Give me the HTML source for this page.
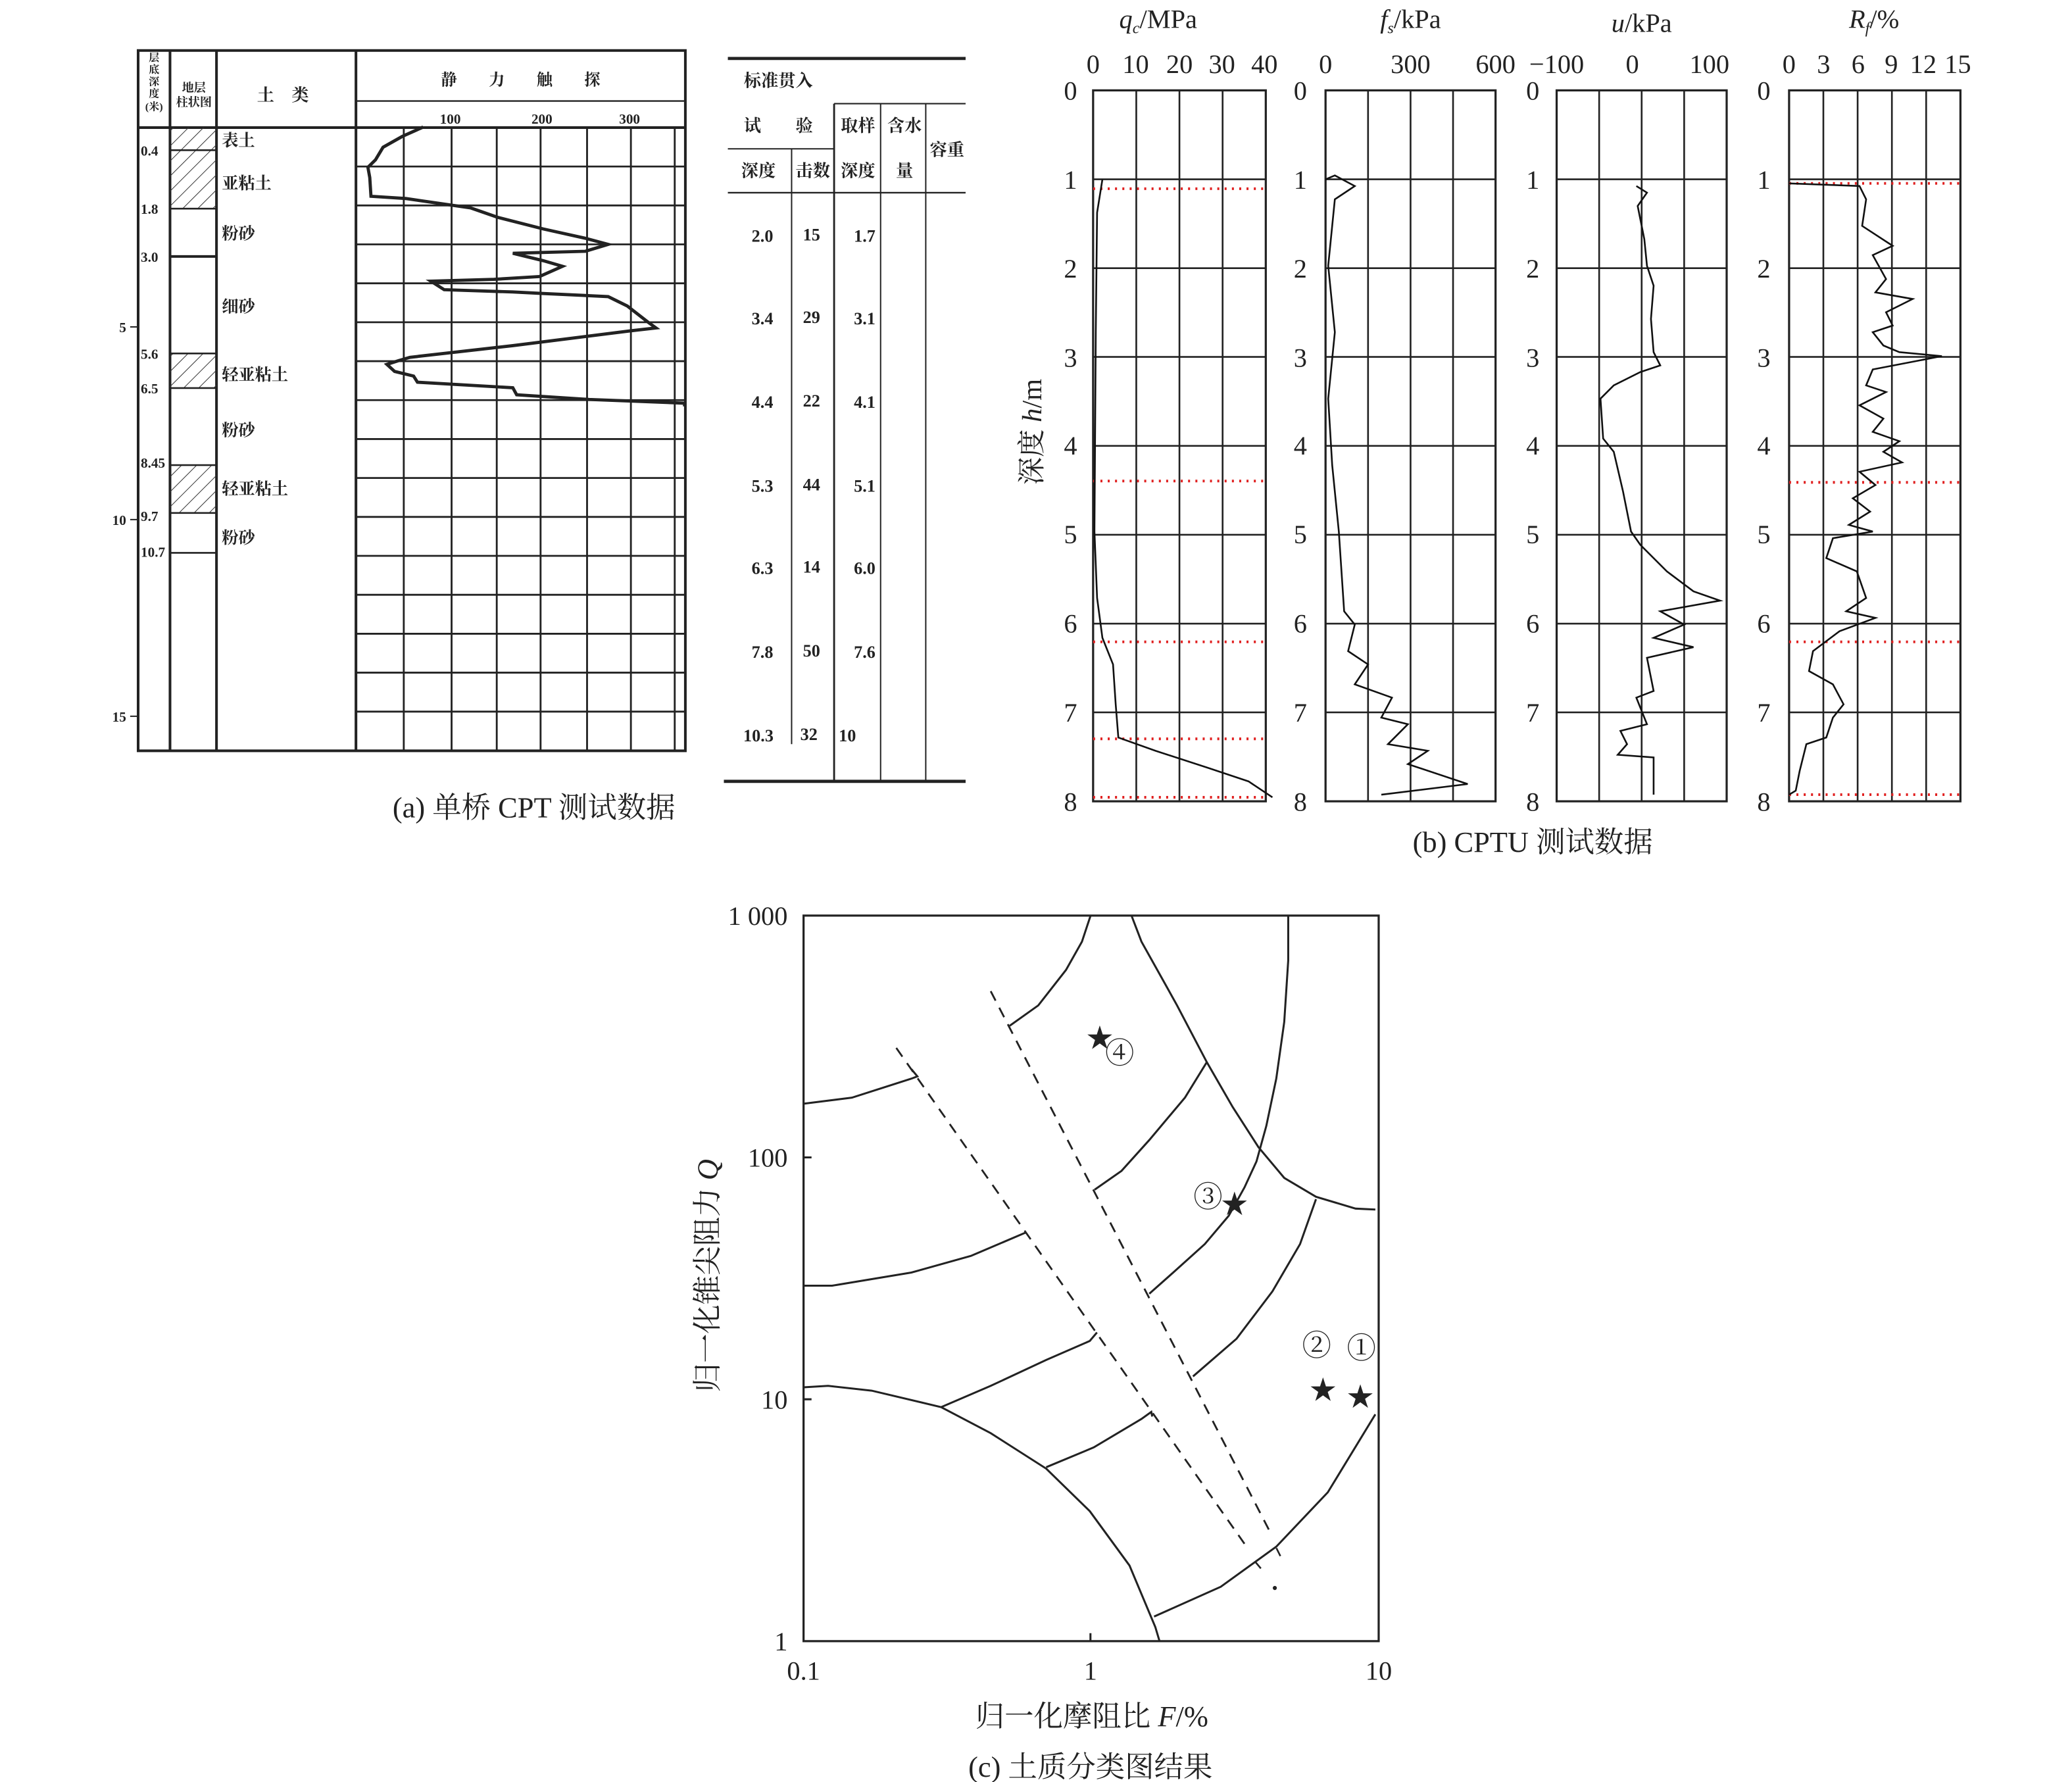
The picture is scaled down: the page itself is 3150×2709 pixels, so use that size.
<!DOCTYPE html>
<html><head><meta charset="utf-8"><style>
html,body{margin:0;padding:0;background:#fff;}
svg{display:block;}
text{font-family:"Liberation Serif","Noto Serif CJK SC",serif;fill:#222;}
.cj{font-family:"Liberation Serif","Noto Serif CJK SC","Noto Sans CJK SC",serif;}
</style></head><body>
<svg width="3150" height="2709" viewBox="0 0 1560 1341" preserveAspectRatio="none" xmlns="http://www.w3.org/2000/svg">
<defs>
<pattern id="h" patternUnits="userSpaceOnUse" width="8" height="8" patternTransform="rotate(45)">
<line x1="0" y1="0" x2="0" y2="8" stroke="#333" stroke-width="1"/></pattern>
</defs>
<rect width="1560" height="1341" fill="#fff"/>

<!-- ============ PANEL A ============ -->
<g stroke="#222" fill="none">
<rect x="104" y="38" width="412" height="527" stroke-width="2"/>
<line x1="128" y1="38" x2="128" y2="565" stroke-width="2"/>
<line x1="163" y1="38" x2="163" y2="565" stroke-width="2"/>
<line x1="268" y1="38" x2="268" y2="565" stroke-width="2"/>
<line x1="104" y1="96" x2="516" y2="96" stroke-width="2"/>
<line x1="268" y1="76" x2="516" y2="76" stroke-width="1.2"/>
<rect x="128" y="96" width="35" height="61" fill="url(#h)" stroke="none"/>
<rect x="128" y="266" width="35" height="26" fill="url(#h)" stroke="none"/>
<rect x="128" y="350" width="35" height="36" fill="url(#h)" stroke="none"/>
<g stroke-width="1.3">
<line x1="128" y1="113" x2="163" y2="113"/><line x1="128" y1="157" x2="163" y2="157"/>
<line x1="128" y1="193" x2="163" y2="193" stroke-width="2"/><line x1="128" y1="266" x2="163" y2="266"/>
<line x1="128" y1="292" x2="163" y2="292"/><line x1="128" y1="350" x2="163" y2="350"/>
<line x1="128" y1="386" x2="163" y2="386"/><line x1="128" y1="416" x2="163" y2="416"/>
</g>
<g stroke-width="1.4">
<line x1="304" y1="96" x2="304" y2="565"/><line x1="340" y1="96" x2="340" y2="565"/>
<line x1="374" y1="96" x2="374" y2="565"/><line x1="407" y1="96" x2="407" y2="565"/>
<line x1="442" y1="96" x2="442" y2="565"/><line x1="475" y1="96" x2="475" y2="565"/>
<line x1="508" y1="96" x2="508" y2="565"/>
<line x1="268" y1="125.3" x2="516" y2="125.3"/><line x1="268" y1="154.6" x2="516" y2="154.6"/>
<line x1="268" y1="183.9" x2="516" y2="183.9"/><line x1="268" y1="213.2" x2="516" y2="213.2"/>
<line x1="268" y1="242.5" x2="516" y2="242.5"/><line x1="268" y1="271.8" x2="516" y2="271.8"/>
<line x1="268" y1="301.1" x2="516" y2="301.1"/><line x1="268" y1="330.4" x2="516" y2="330.4"/>
<line x1="268" y1="359.7" x2="516" y2="359.7"/><line x1="268" y1="389" x2="516" y2="389"/>
<line x1="268" y1="418.3" x2="516" y2="418.3"/><line x1="268" y1="447.6" x2="516" y2="447.6"/>
<line x1="268" y1="476.9" x2="516" y2="476.9"/><line x1="268" y1="506.2" x2="516" y2="506.2"/>
<line x1="268" y1="535.5" x2="516" y2="535.5"/>
</g>
<line x1="98" y1="246" x2="104" y2="246"/><line x1="98" y1="391" x2="104" y2="391"/><line x1="98" y1="539" x2="104" y2="539"/>
<polyline stroke-width="2.4" points="318.6,95.6 302.8,102.7 288.4,110.8 282.7,120.3 277,125.9 278.4,133.6 279.3,147.7 305.7,149.4 354.5,156.5 374.6,163.5 409.1,172.3 440.7,179.3 457.9,183.9 440.7,189.1 386.1,190.6 409.1,196.2 423.5,200.4 406.2,208.1 371.8,210.2 324.4,211.6 334.4,218 386.1,219.7 407.7,220.8 457.9,223.2 472.3,230.3 488.1,242.6 493.9,246.8 475.2,248.9 386.1,260.1 308.6,268.9 300,271.4 291.3,274.2 297.1,279.5 311.4,283 314.3,287.6 386.1,291.8 389,297.1 443.6,300.6 515.4,303.4 515.4,305.8"/>
</g>
<g class="cj" font-size="10.5" font-weight="bold">
<text x="116" y="46" font-size="8" text-anchor="middle">层</text>
<text x="116" y="55" font-size="8" text-anchor="middle">底</text>
<text x="116" y="64" font-size="8" text-anchor="middle">深</text>
<text x="116" y="73" font-size="8" text-anchor="middle">度</text>
<text x="116" y="83" font-size="8" text-anchor="middle">(米)</text>
<text x="146" y="69" font-size="9" text-anchor="middle">地层</text>
<text x="146" y="80" font-size="9" text-anchor="middle">柱状图</text>
<text x="213" y="76" font-size="13" text-anchor="middle">土　类</text>
<text x="392" y="64" font-size="12" text-anchor="middle">静　　力　　触　　探</text>
<text x="339" y="93" text-anchor="middle">100</text>
<text x="408" y="93" text-anchor="middle">200</text>
<text x="474" y="93" text-anchor="middle">300</text>
<text x="106" y="117">0.4</text><text x="106" y="161">1.8</text><text x="106" y="197">3.0</text>
<text x="106" y="270">5.6</text><text x="106" y="296">6.5</text><text x="106" y="352">8.45</text>
<text x="106" y="392">9.7</text><text x="106" y="419">10.7</text>
<text x="95" y="250" text-anchor="end">5</text><text x="95" y="395" text-anchor="end">10</text><text x="95" y="543" text-anchor="end">15</text>
<g font-size="12.5">
<text x="167" y="110">表土</text><text x="167" y="142">亚粘土</text><text x="167" y="180">粉砂</text>
<text x="167" y="235">细砂</text><text x="167" y="286">轻亚粘土</text><text x="167" y="328">粉砂</text>
<text x="167" y="372">轻亚粘土</text><text x="167" y="409">粉砂</text>
</g>
</g>

<!-- right table -->
<g stroke="#222" fill="none">
<line x1="548" y1="44" x2="727" y2="44" stroke-width="2.4"/>
<line x1="628" y1="78" x2="727" y2="78" stroke-width="1"/>
<line x1="548" y1="112" x2="628" y2="112" stroke-width="1"/>
<line x1="548" y1="145" x2="727" y2="145" stroke-width="1.2"/>
<line x1="596" y1="112" x2="596" y2="560" stroke-width="1"/>
<line x1="628" y1="78" x2="628" y2="588" stroke-width="1.4"/>
<line x1="663" y1="78" x2="663" y2="588" stroke-width="1"/>
<line x1="697" y1="78" x2="697" y2="588" stroke-width="1"/>
<line x1="545" y1="588" x2="727" y2="588" stroke-width="2.4"/>
</g>
<g class="cj" font-size="13" font-weight="bold">
<text x="586" y="65" text-anchor="middle">标准贯入</text>
<text x="586" y="99" text-anchor="middle">试　　验</text>
<text x="646" y="99" text-anchor="middle">取样</text>
<text x="681" y="99" text-anchor="middle">含水</text>
<text x="713" y="117" text-anchor="middle">容重</text>
<text x="571" y="133" text-anchor="middle">深度</text>
<text x="612" y="133" text-anchor="middle">击数</text>
<text x="646" y="133" text-anchor="middle">深度</text>
<text x="681" y="133" text-anchor="middle">量</text>
</g>
<g font-size="13" text-anchor="middle" font-weight="bold">
<text x="574" y="182">2.0</text><text x="611" y="181">15</text><text x="651" y="182">1.7</text>
<text x="574" y="244">3.4</text><text x="611" y="243">29</text><text x="651" y="244">3.1</text>
<text x="574" y="307">4.4</text><text x="611" y="306">22</text><text x="651" y="307">4.1</text>
<text x="574" y="370">5.3</text><text x="611" y="369">44</text><text x="651" y="370">5.1</text>
<text x="574" y="432">6.3</text><text x="611" y="431">14</text><text x="651" y="432">6.0</text>
<text x="574" y="495">7.8</text><text x="611" y="494">50</text><text x="651" y="495">7.6</text>
<text x="571" y="558">10.3</text><text x="609" y="557">32</text><text x="638" y="558">10</text>
</g>
<text class="cj" x="402" y="615" font-size="22" text-anchor="middle">(a) 单桥 CPT 测试数据</text>

<!-- ============ PANEL B ============ -->
<g stroke="#222" fill="none" stroke-width="1.3">
<rect x="823" y="68" width="130" height="535" stroke-width="1.6"/>
<rect x="998" y="68" width="128" height="535" stroke-width="1.6"/>
<rect x="1172" y="68" width="128" height="535" stroke-width="1.6"/>
<rect x="1347" y="68" width="129" height="535" stroke-width="1.6"/>
<path d="M855.5 68V603M888 68V603M920.5 68V603
M1030 68V603M1062 68V603M1094 68V603
M1204 68V603M1236 68V603M1268 68V603
M1372.8 68V603M1398.6 68V603M1424.4 68V603M1450.2 68V603"/>
<path d="M823 134.9H953M823 201.8H953M823 268.6H953M823 335.5H953M823 402.4H953M823 469.3H953M823 536.1H953
M998 134.9H1126M998 201.8H1126M998 268.6H1126M998 335.5H1126M998 402.4H1126M998 469.3H1126M998 536.1H1126
M1172 134.9H1300M1172 201.8H1300M1172 268.6H1300M1172 335.5H1300M1172 402.4H1300M1172 469.3H1300M1172 536.1H1300
M1347 134.9H1476M1347 201.8H1476M1347 268.6H1476M1347 335.5H1476M1347 402.4H1476M1347 469.3H1476M1347 536.1H1476"/>
</g>
<g stroke="#e02020" stroke-width="2" stroke-dasharray="1.5 4" fill="none">
<path d="M823 142H953M823 362H953M823 483H953M823 556H953M823 600H953"/>
<path d="M1347 138H1476M1347 363H1476M1347 483H1476M1347 598H1476"/>
</g>
<g stroke="#111" fill="none" stroke-width="1.3">
<polyline points="830,135 826,160 825,250 824,400 826,450 830,480 838,500 840,530 842,555 870,565 910,578 940,588 958,600"/>
<polyline points="998,135 1005,132 1020,140 1005,150 1000,200 1005,250 1000,300 1003,350 1008,400 1010,430 1012,460 1020,470 1015,490 1030,500 1020,515 1048,525 1040,540 1060,545 1045,560 1075,565 1060,575 1105,590 1040,598"/>
<polyline points="1232,140 1240,145 1233,155 1238,180 1240,200 1245,215 1243,240 1245,265 1250,275 1235,280 1215,290 1205,300 1207,330 1215,340 1222,370 1228,400 1235,410 1255,430 1275,445 1295,452 1250,460 1268,470 1245,480 1275,487 1240,495 1245,520 1232,525 1240,545 1220,550 1225,560 1218,568 1245,570 1245,598"/>
<polyline points="1347,138 1400,140 1405,150 1402,170 1425,185 1410,192 1420,210 1412,220 1440,225 1420,235 1425,245 1410,250 1418,260 1430,265 1462,268 1410,278 1405,290 1420,295 1400,305 1418,315 1410,325 1430,332 1418,340 1432,348 1400,355 1412,365 1395,375 1408,385 1392,395 1410,400 1380,405 1375,420 1398,430 1405,450 1390,460 1412,465 1385,475 1365,490 1362,505 1380,515 1388,530 1380,540 1375,555 1360,560 1355,580 1352,595 1347,598"/>
</g>
<g font-size="20" text-anchor="middle">
<text x="872" y="21"><tspan font-style="italic">q</tspan><tspan font-size="12" font-style="italic" dy="4">c</tspan><tspan dy="-4">/MPa</tspan></text>
<text x="1062" y="21"><tspan font-style="italic">f</tspan><tspan font-size="12" font-style="italic" dy="4">s</tspan><tspan dy="-4">/kPa</tspan></text>
<text x="1236" y="24"><tspan font-style="italic">u</tspan>/kPa</text>
<text x="1411" y="21"><tspan font-style="italic">R</tspan><tspan font-size="12" font-style="italic" dy="4">f</tspan><tspan dy="-4">/%</tspan></text>
<text x="823" y="55">0</text><text x="855" y="55">10</text><text x="888" y="55">20</text><text x="920" y="55">30</text><text x="952" y="55">40</text>
<text x="998" y="55">0</text><text x="1062" y="55">300</text><text x="1126" y="55">600</text>
<text x="1172" y="55">−100</text><text x="1229" y="55">0</text><text x="1287" y="55">100</text>
<text x="1347" y="55">0</text><text x="1373" y="55">3</text><text x="1399" y="55">6</text><text x="1424" y="55">9</text><text x="1448" y="55">12</text><text x="1474" y="55">15</text>
</g>
<g font-size="20" text-anchor="middle">
<text x="806" y="75">0</text><text x="806" y="142">1</text><text x="806" y="209">2</text><text x="806" y="276">3</text><text x="806" y="342">4</text><text x="806" y="409">5</text><text x="806" y="476">6</text><text x="806" y="543">7</text><text x="806" y="610">8</text>
<text x="979" y="75">0</text><text x="979" y="142">1</text><text x="979" y="209">2</text><text x="979" y="276">3</text><text x="979" y="342">4</text><text x="979" y="409">5</text><text x="979" y="476">6</text><text x="979" y="543">7</text><text x="979" y="610">8</text>
<text x="1154" y="75">0</text><text x="1154" y="142">1</text><text x="1154" y="209">2</text><text x="1154" y="276">3</text><text x="1154" y="342">4</text><text x="1154" y="409">5</text><text x="1154" y="476">6</text><text x="1154" y="543">7</text><text x="1154" y="610">8</text>
<text x="1328" y="75">0</text><text x="1328" y="142">1</text><text x="1328" y="209">2</text><text x="1328" y="276">3</text><text x="1328" y="342">4</text><text x="1328" y="409">5</text><text x="1328" y="476">6</text><text x="1328" y="543">7</text><text x="1328" y="610">8</text>
</g>
<text class="cj" font-size="21" text-anchor="middle" transform="translate(784,325) rotate(-90)">深度 <tspan font-style="italic">h</tspan>/m</text>
<text class="cj" x="1154" y="641" font-size="22" text-anchor="middle">(b) CPTU 测试数据</text>

<!-- ============ PANEL C ============ -->
<g stroke="#222" fill="none" stroke-width="1.5">
<rect x="605" y="689" width="433" height="546" stroke-width="1.6"/>
<path d="M605 871H611M605 1053H611M821 1235V1229"/>
<polyline points="760.2,771.9 781.7,756.6 802.6,729.9 814.6,708.6 821.1,689"/>
<polyline points="851.9,689 859.4,708.6 877.3,740.6 886.2,756.6 908.6,799.3 928.1,833.1 947.5,863.3 966.9,886.4 990.8,900.6 1020.6,909.5 1035.5,910.2"/>
<polyline points="969.9,689 969.9,722.8 966.9,769 960.9,811.7 953.4,847.3 946,874 937,893.5 925.1,914.9 907.1,936.2 883.3,957.6 865.3,973.6"/>
<polyline points="908.6,799.3 892.2,825.9 865.3,857.9 844.4,881.1 824.1,895.3"/>
<polyline points="990.8,902.4 978.8,936.2 958,971.8 931,1007.4 898.2,1035.8"/>
<polyline points="605,830.6 641.4,826 686.2,811.7 690.7,810 686.2,804.6"/>
<polyline points="605,967.5 626.5,967.5 686.2,957.6 731,945.1 772.8,927.3"/>
<polyline points="605,1044 623.5,1042.9 656.3,1046.5 708.6,1058.9 745.9,1078.5 787.7,1105.2 820.5,1137.2 850.4,1178.1 869.8,1224.3 873,1235"/>
<polyline points="708.6,1058.9 745.9,1042.9 787.7,1023.4 820.5,1009.1 825.9,1002.7"/>
<polyline points="787.7,1104.1 823.5,1089.2 859.4,1067.8 866.8,1062.5 867.5,1066"/>
<polyline points="868.9,1216.5 919.1,1194.1 960.9,1163.9 999.7,1123 1035.5,1064.3"/>
<g stroke-dasharray="8 6" stroke-width="1.4">
<line x1="674.8" y1="788.6" x2="938.5" y2="1163.9"/>
<line x1="745.9" y1="745.9" x2="956.4" y2="1153.2"/>
</g>
<path d="M944.8 1175L949.3 1180.3M961 1165L964 1171" stroke-width="1.3"/>
<circle cx="959.8" cy="1195" r="0.8" fill="#222"/>
</g>
<g font-size="20" text-anchor="middle">
<text x="828" y="788">★</text>
<text x="929.5" y="913">★</text>
<text x="996.1" y="1053">★</text>
<text x="1024.2" y="1058">★</text>
<text x="843" y="800" font-size="22">④</text>
<text x="909.5" y="908" font-size="22">③</text>
<text x="991.3" y="1020" font-size="22">②</text>
<text x="1025" y="1022" font-size="22">①</text>
<text x="593" y="696" text-anchor="end">1 000</text>
<text x="593" y="878" text-anchor="end">100</text>
<text x="593" y="1060" text-anchor="end">10</text>
<text x="593" y="1242" text-anchor="end">1</text>
<text x="605" y="1264">0.1</text>
<text x="821" y="1264">1</text>
<text x="1038" y="1264">10</text>
</g>
<text class="cj" x="822" y="1299" font-size="22" text-anchor="middle">归一化摩阻比 <tspan font-style="italic">F</tspan>/%</text>
<text class="cj" font-size="22" text-anchor="middle" transform="translate(540,960) rotate(-90)">归一化锥尖阻力 <tspan font-style="italic">Q</tspan></text>
<text class="cj" x="821" y="1337" font-size="22" text-anchor="middle">(c) 土质分类图结果</text>
</svg>
</body></html>
